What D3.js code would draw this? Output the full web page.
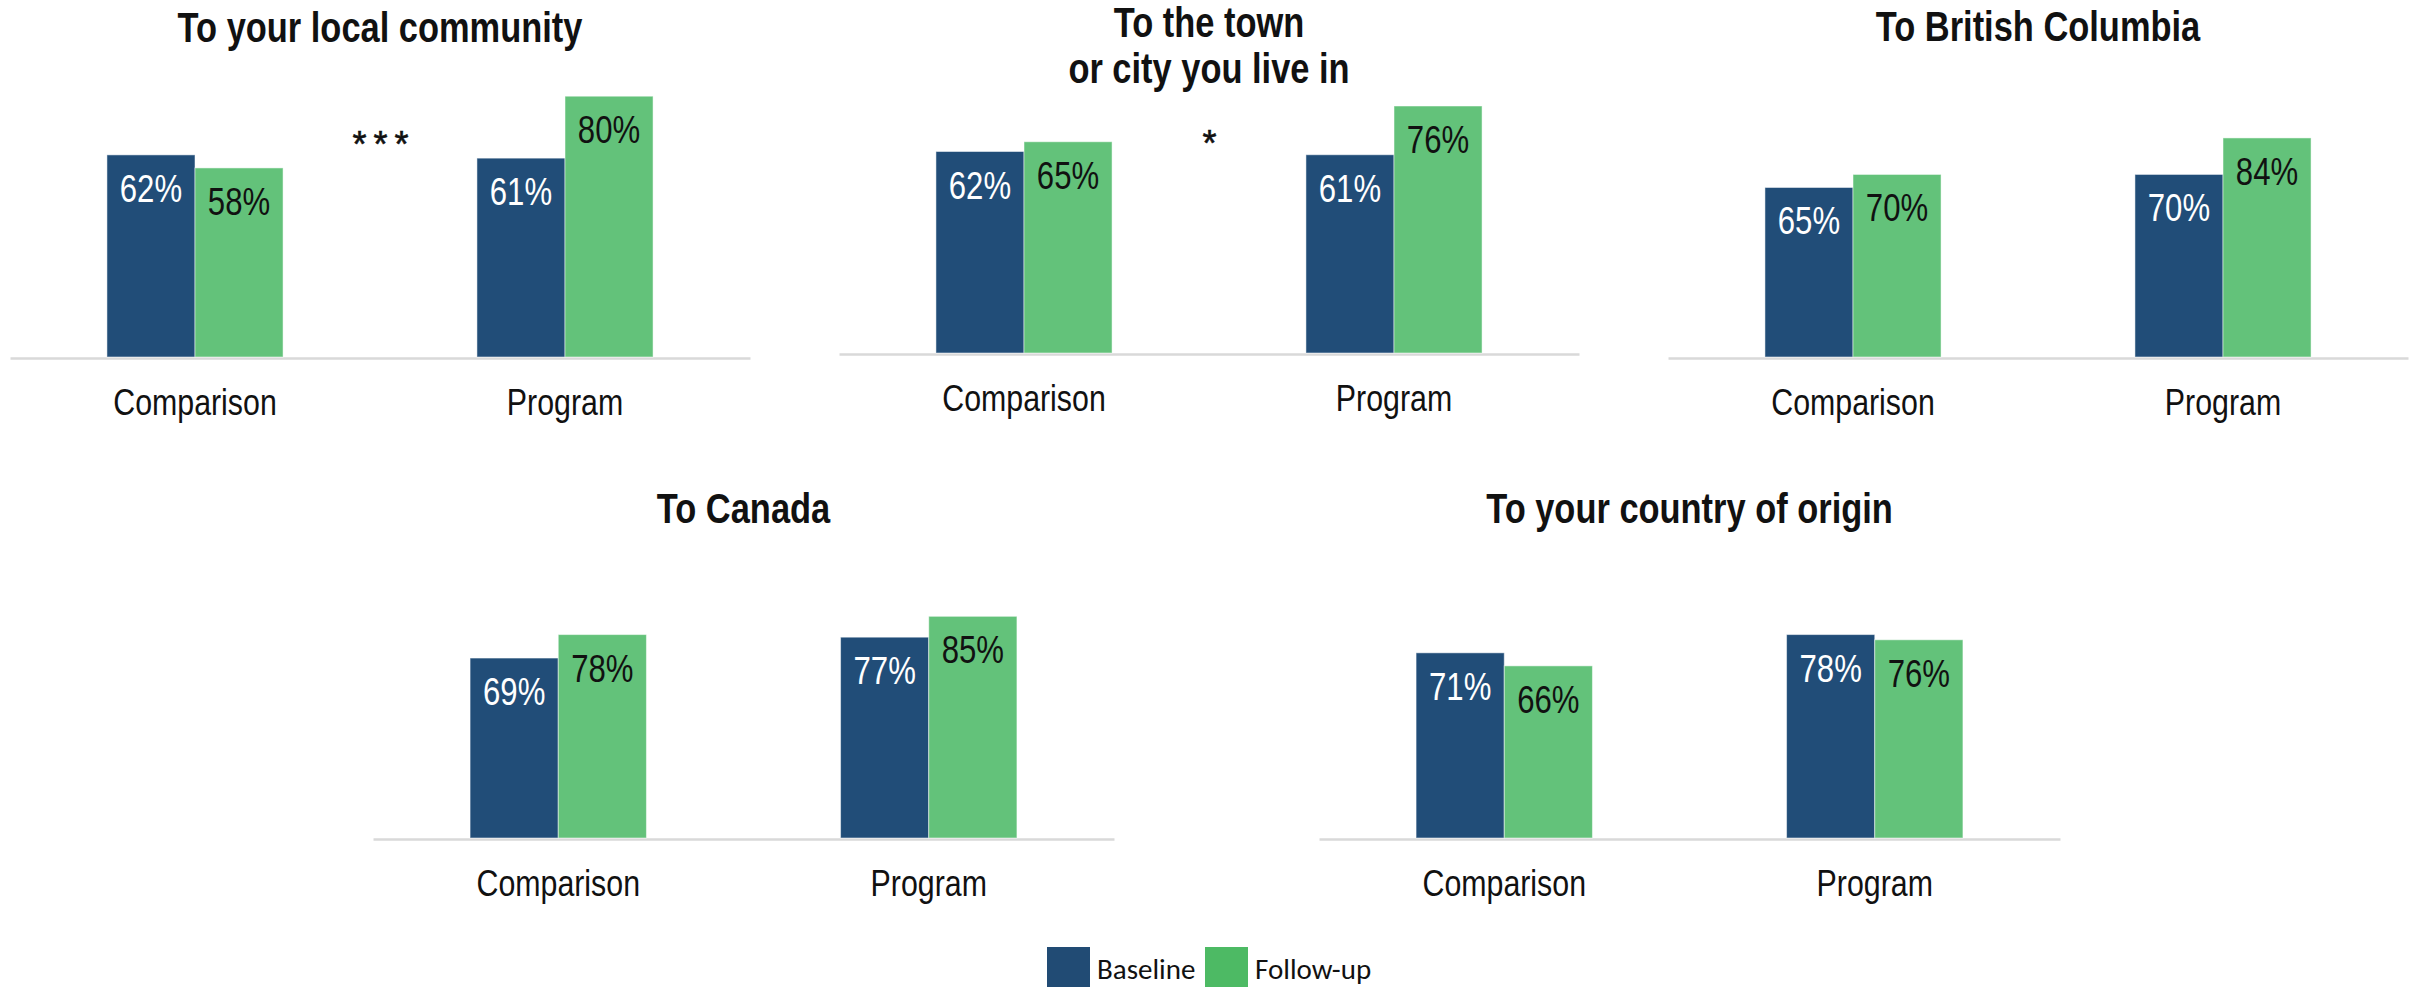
<!DOCTYPE html>
<html>
<head>
<meta charset="utf-8">
<script src="https://cdn.jsdelivr.net/npm/d3@7"></script>
<style>
  html, body { margin: 0; padding: 0; background: #ffffff; }
  svg { display: block; }
  .narrow { font-family: "Liberation Sans Narrow", "Arial Narrow", "Liberation Sans", Arial, sans-serif; }
</style>
</head>
<body>
<div id="chart"></div>
<script>
// ---------------- data ----------------
const categories = ["Comparison", "Program"];
const seriesNames = ["Baseline", "Follow-up"];
const panelTitles = [
  ["To your local community"],
  ["To the town", "or city you live in"],
  ["To British Columbia"],
  ["To Canada"],
  ["To your country of origin"]
];
const baselineValues = [
  [62, 61],
  [62, 61],
  [65, 70],
  [69, 77],
  [71, 78]
];
const followupValues = [
  [58, 80],
  [65, 76],
  [70, 84],
  [78, 85],
  [66, 76]
];
const significance = ["***", "*", "", "", ""];
const axisMax = [100, 100, 125, 125, 125];

// ---------------- layout ----------------
const W = 2420, H = 987;
const layout = [
  { left: 10,   right: 750,  zero: 357, h: 326, titleY: [42] },
  { left: 839,  right: 1579, zero: 353, h: 325, titleY: [37, 83] },
  { left: 1668, right: 2408, zero: 357, h: 326, titleY: [41] },
  { left: 373,  right: 1114, zero: 838, h: 326, titleY: [523] },
  { left: 1319, right: 2060, zero: 838, h: 326, titleY: [523] }
];
const barColors = { "Baseline": "#214d78", "Follow-up": "#63c27a" };
const legendColors = { "Baseline": "#214b74", "Follow-up": "#4dba64" };
const labelColors = { "Baseline": "#ffffff", "Follow-up": "#111111" };

// condensed face detection: if no narrow font is installed, squeeze horizontally
function narrowAvailable() {
  const c = document.createElement("canvas").getContext("2d");
  c.font = "40px 'Liberation Sans'";
  const a = c.measureText("Comparison Program").width;
  c.font = "40px 'Liberation Sans Narrow', 'Liberation Sans'";
  const b = c.measureText("Comparison Program").width;
  return b < a * 0.95;
}
const SX = narrowAvailable() ? 1 : 0.82;

const svg = d3.select("#chart").append("svg")
  .attr("width", W).attr("height", H)
  .attr("viewBox", `0 0 ${W} ${H}`);

panelTitles.forEach((title, i) => {
  const L = layout[i];
  const g = svg.append("g").attr("class", "panel");
  const rows = categories.map((c, j) => ({
    category: c,
    values: [
      { series: "Baseline", value: baselineValues[i][j] },
      { series: "Follow-up", value: followupValues[i][j] }
    ]
  }));

  const x0 = d3.scaleBand().domain(categories)
    .range([L.left, L.right]).paddingInner(0.524).paddingOuter(0.262);
  const x1 = d3.scaleBand().domain(seriesNames).range([0, x0.bandwidth()]);
  const y = d3.scaleLinear().domain([0, axisMax[i]]).range([L.zero, L.zero - L.h]);

  // axis
  const ax = g.append("g").attr("transform", `translate(0,${L.zero + 1})`)
    .call(d3.axisBottom(x0).tickSize(0).tickSizeOuter(0));
  ax.select(".domain").attr("stroke", "#d9d9d9").attr("stroke-width", 2.5);
  ax.selectAll(".tick text")
    .attr("class", "narrow")
    .attr("y", 0).attr("dy", 0)
    .attr("transform", `translate(0,57) scale(${SX},1)`)
    .attr("font-size", 37).attr("fill", "#111111");

  // bars
  const groups = g.selectAll("g.grp").data(rows).join("g")
    .attr("class", "grp")
    .attr("transform", d => `translate(${x0(d.category)},0)`);
  groups.selectAll("rect").data(d => d.values).join("rect")
    .attr("x", d => x1(d.series))
    .attr("y", d => y(d.value))
    .attr("width", x1.bandwidth())
    .attr("height", d => y(0) - y(d.value))
    .attr("fill", d => barColors[d.series])
    .attr("stroke", "#ffffff").attr("stroke-opacity", 0.5).attr("stroke-width", 1);
  groups.selectAll("text.val").data(d => d.values).join("text")
    .attr("class", "val narrow")
    .attr("transform", d => `translate(${x1(d.series) + x1.bandwidth() / 2},${y(d.value) + 47}) scale(${SX},1)`)
    .attr("text-anchor", "middle")
    .attr("font-size", 38)
    .attr("fill", d => labelColors[d.series])
    .text(d => d.value + "%");

  // title
  const cx = (L.left + L.right) / 2;
  g.selectAll("text.title").data(title).join("text")
    .attr("class", "title narrow")
    .attr("transform", (d, k) => `translate(${cx},${L.titleY[k]}) scale(${SX},1)`)
    .attr("text-anchor", "middle")
    .attr("font-size", 42).attr("font-weight", "bold")
    .attr("fill", "#111111")
    .text(d => d);

  // significance marker between groups
  if (significance[i]) {
    const mid = (x0("Comparison") + x0.bandwidth() + x0("Program")) / 2;
    g.append("text")
      .attr("x", mid + 4)
      .attr("y", i === 0 ? 157 : 156)
      .attr("text-anchor", "middle")
      .attr("font-family", "Liberation Sans, Arial, sans-serif")
      .attr("font-size", 36)
      .attr("letter-spacing", 7)
      .attr("stroke", "#111111").attr("stroke-width", 0.6)
      .attr("fill", "#111111")
      .text(significance[i]);
  }
});

// legend
const legend = svg.append("g").attr("class", "legend");
const legendX = d3.scaleOrdinal().domain(seriesNames).range([1047, 1205]);
const lg = legend.selectAll("g").data(seriesNames).join("g")
  .attr("transform", d => `translate(${legendX(d)},947)`);
lg.append("rect").attr("width", 43).attr("height", 45)
  .attr("fill", d => legendColors[d]);
lg.append("text").attr("x", 50).attr("y", 32)
  .attr("font-family", "Carlito, Lato, 'Open Sans', sans-serif")
  .attr("font-size", 29).attr("fill", "#111111")
  .text(d => d);
</script>
</body>
</html>
